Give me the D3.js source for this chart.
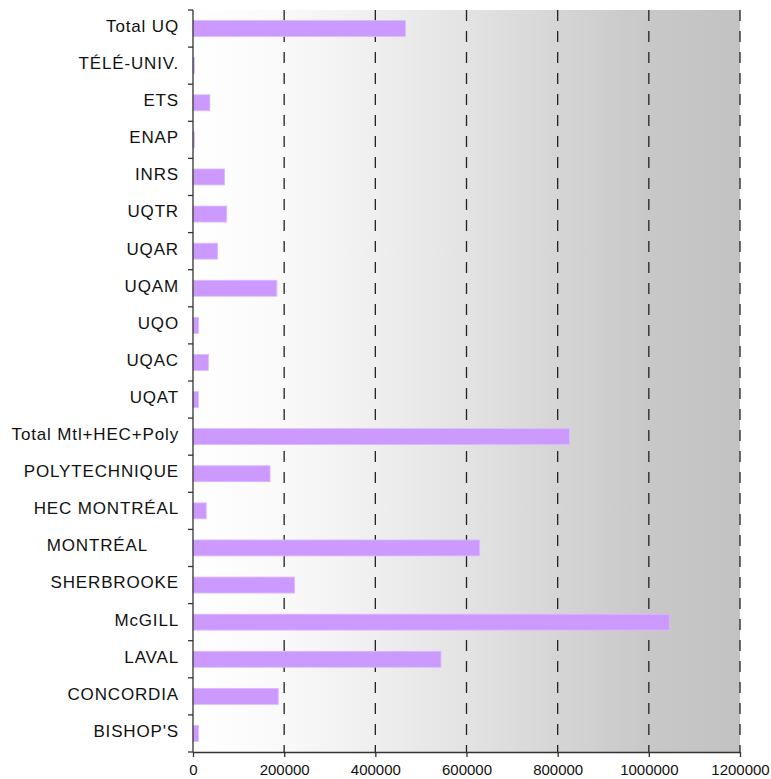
<!DOCTYPE html>
<html>
<head>
<meta charset="utf-8">
<script src="https://cdn.jsdelivr.net/npm/d3@7"></script>
<style>
    body { margin: 0; background: #fff; }
    text { font-family: "Liberation Sans", Arial, sans-serif; fill: #111; }
</style>
</head>
<body>
<svg width="771" height="779"></svg>
<script>
var categories = ['Total UQ', 'TÉLÉ-UNIV.', 'ETS', 'ENAP', 'INRS', 'UQTR', 'UQAR', 'UQAM', 'UQO', 'UQAC', 'UQAT',
    'Total Mtl+HEC+Poly', 'POLYTECHNIQUE', 'HEC MONTRÉAL', 'MONTRÉAL', 'SHERBROOKE', 'McGILL', 'LAVAL', 'CONCORDIA', "BISHOP'S"];
var values = [466000, 3000, 37000, 3000, 69000, 74000, 54000, 184000, 12000, 34000, 12000,
    826000, 169000, 29000, 629000, 223000, 1045000, 544000, 187000, 12000];
var xTicks = [0, 200000, 400000, 600000, 800000, 1000000, 1200000];

function drawChart() {
    var svg = d3.select('svg');
    var left = 193, top = 10, right = 740, bottom = 752;

    var x = d3.scaleLinear().domain([0, 1200000]).range([left, right]);
    var y = d3.scaleBand().domain(categories).range([top, bottom])
        .paddingInner(0.57).paddingOuter(0.285);

    // grey gradient behind the bars
    var grad = svg.append('defs').append('linearGradient')
        .attr('id', 'bg').attr('x1', 0).attr('x2', 1).attr('y1', 0).attr('y2', 0);
    [[0, '#ffffff'], [0.17, '#f9f9f9'], [0.33, '#efefef'], [0.5, '#e3e3e3'],
     [0.67, '#d5d5d5'], [0.83, '#c8c8c8'], [1, '#c2c2c2']].forEach(s => {
        grad.append('stop').attr('offset', s[0]).attr('stop-color', s[1]);
    });
    svg.append('rect')
        .attr('x', left).attr('y', top)
        .attr('width', right - left).attr('height', bottom - top)
        .attr('fill', 'url(#bg)');

    // dashed grid
    svg.selectAll('line.grid')
        .data(xTicks.slice(1))
        .enter().append('line')
        .attr('class', 'grid')
        .attr('x1', d => x(d)).attr('x2', d => x(d))
        .attr('y1', top).attr('y2', bottom)
        .attr('stroke', '#222').attr('stroke-width', 1.3)
        .attr('stroke-dasharray', '11,10');

    svg.selectAll('rect.bar')
        .data(values)
        .enter().append('rect')
        .attr('class', 'bar')
        .attr('x', x(0))
        .attr('y', (d, i) => y(categories[i]))
        .attr('width', d => x(d) - x(0))
        .attr('height', y.bandwidth())
        .attr('fill', '#cc99ff')
        .attr('stroke', '#dcbaff').attr('stroke-width', 0.8);

    // y axis: labels at band centres, ticks between bands
    var yAxis = svg.append('g')
        .attr('transform', 'translate(' + left + ',0)')
        .call(d3.axisLeft(y).tickSize(0).tickPadding(14));
    yAxis.select('.domain').remove();
    yAxis.selectAll('text')
        .attr('font-size', 17).attr('dy', '0.2em')
        .style('font-family', '"Liberation Sans", Arial, sans-serif')
        .attr('letter-spacing', 0.85)
        .attr('fill', '#111');
    yAxis.selectAll('.tick').filter(d => d === 'MONTRÉAL').select('text')
        .attr('dx', -31);

    svg.selectAll('line.ytick')
        .data(d3.range(categories.length + 1))
        .enter().append('line')
        .attr('class', 'ytick')
        .attr('x1', left - 5).attr('x2', left)
        .attr('y1', i => top + i * y.step()).attr('y2', i => top + i * y.step())
        .attr('stroke', '#333').attr('stroke-width', 1.3);
    svg.append('line')
        .attr('x1', left).attr('x2', left).attr('y1', top).attr('y2', bottom)
        .attr('stroke', '#333').attr('stroke-width', 1.3);

    var xAxis = svg.append('g')
        .attr('transform', 'translate(0,' + bottom + ')')
        .call(d3.axisBottom(x).tickValues(xTicks).tickFormat(d3.format('d'))
            .tickSizeInner(5).tickSizeOuter(0).tickPadding(7));
    xAxis.select('.domain').attr('stroke', '#333').attr('stroke-width', 1.3);
    xAxis.selectAll('.tick line').attr('stroke', '#333').attr('stroke-width', 1.3);
    xAxis.selectAll('text')
        .attr('font-size', 15)
        .style('font-family', '"Liberation Sans", Arial, sans-serif')
        .attr('fill', '#111');
}
drawChart();
</script>
</body>
</html>
